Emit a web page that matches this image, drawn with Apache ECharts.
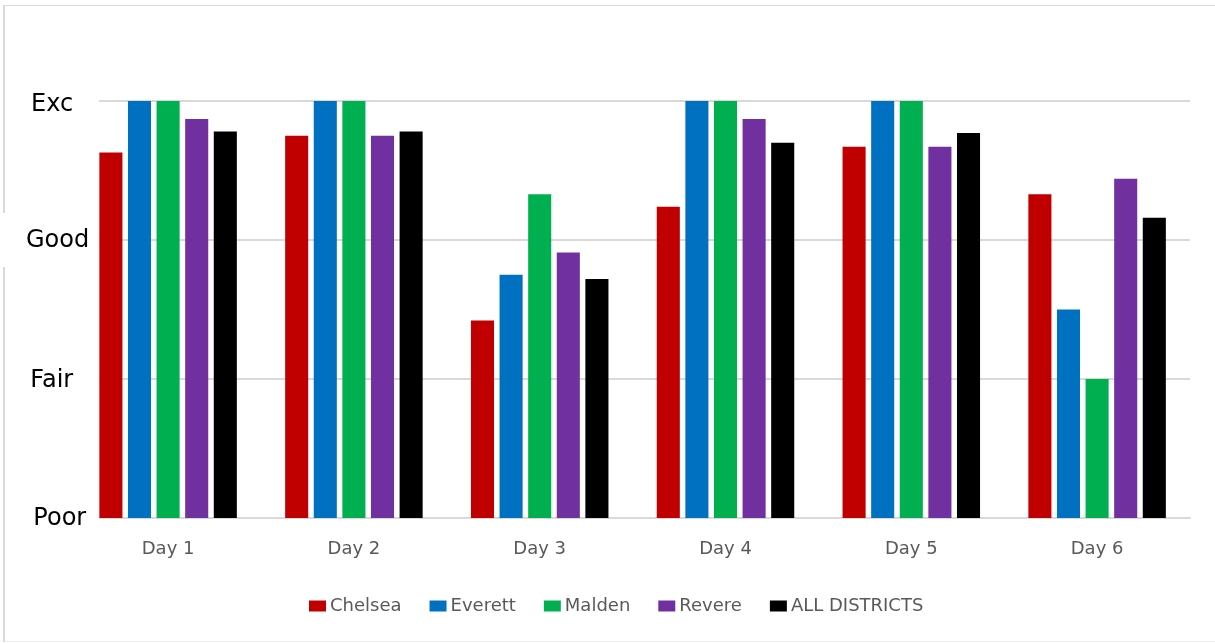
<!DOCTYPE html>
<html>
<head>
<meta charset="utf-8">
<script src="https://cdn.jsdelivr.net/npm/echarts@6/dist/echarts.min.js"></script>
<style>
  html, body { margin: 0; padding: 0; background: #fff; overflow: hidden; }
  #frame {
    position: absolute; left: 3px; top: 5px; width: 1300px; height: 635px;
    border-left: 2px solid #d9d9d9; border-top: 1px solid #d9d9d9; border-bottom: 1px solid #eeeeee;
  }
  #chart { position: absolute; left: 0; top: 0; width: 1215px; height: 643px; }
</style>
</head>
<body>
<div id="frame"></div>
<div id="chart"></div>
<script>
// Rating scale shown on the value axis (0 = Poor ... 3 = Exc)
const ratingLabels = ['Poor', 'Fair', 'Good', 'Exc'];
const days = ['Day 1', 'Day 2', 'Day 3', 'Day 4', 'Day 5', 'Day 6'];

// Average rating per district per day
const chelsea      = [2.63, 2.75, 1.42, 2.24, 2.67, 2.33];
const everett      = [3.00, 3.00, 1.75, 3.00, 3.00, 1.50];
const malden       = [3.00, 3.00, 2.33, 3.00, 3.00, 1.00];
const revere       = [2.87, 2.75, 1.91, 2.87, 2.67, 2.44];
const allDistricts = [2.78, 2.78, 1.72, 2.70, 2.77, 2.16];

const seriesDefs = [
  { name: 'Chelsea', data: chelsea, color: '#C00000' },
  { name: 'Everett', data: everett, color: '#0070C0' },
  { name: 'Malden', data: malden, color: '#00B050' },
  { name: 'Revere', data: revere, color: '#7030A0' },
  { name: 'ALL DISTRICTS', data: allDistricts, color: '#000000' }
];

const FONT = 'DejaVu Sans';
const chart = echarts.init(document.getElementById('chart'), null, { renderer: 'canvas' });

// White label boxes sit over the start of each grid line
const labelBox = (pl, pr, pt, pb) => ({
  backgroundColor: '#fff', padding: [pt, pr, pb, pl],
  fontFamily: FONT, fontSize: 24, color: '#000', lineHeight: 29
});

chart.setOption({
  animation: false,
  grid: { left: 74, right: 25, top: 101, bottom: 125, containLabel: false },
  legend: {
    left: 304, top: 592,
    icon: 'rect', itemWidth: 17, itemHeight: 11, itemGap: 28,
    textStyle: { fontFamily: FONT, fontSize: 18, color: '#595959', padding: [0, 0, 0, -1] },
    data: seriesDefs.map(s => s.name)
  },
  xAxis: {
    type: 'category', data: days,
    axisLine: { lineStyle: { color: '#d9d9d9', width: 2 } },
    axisTick: { show: false },
    axisLabel: { fontFamily: FONT, fontSize: 18, color: '#595959', margin: 22 }
  },
  yAxis: {
    type: 'value', min: 0, max: 3, interval: 1,
    axisLine: { show: false }, axisTick: { show: false },
    splitLine: { lineStyle: { color: '#d9d9d9', width: 2 } },
    axisLabel: {
      align: 'right', margin: -24,
      formatter: v => {
        const t = ratingLabels[Math.round(v)];
        return '{' + t.toLowerCase() + '|' + t + '}';
      },
      rich: {
        exc: labelBox(25, 26, 8, 0),
        good: labelBox(23, 10, 16, 14),
        fair: labelBox(20, 26, 4, 0),
        poor: labelBox(22, 13, 2, 0)
      }
    }
  },
  series: seriesDefs.map(s => ({
    name: s.name, type: 'bar', data: s.data,
    barGap: '24%', barCategoryGap: '26%',
    itemStyle: { color: s.color }
  }))
});
</script>
</body>
</html>
